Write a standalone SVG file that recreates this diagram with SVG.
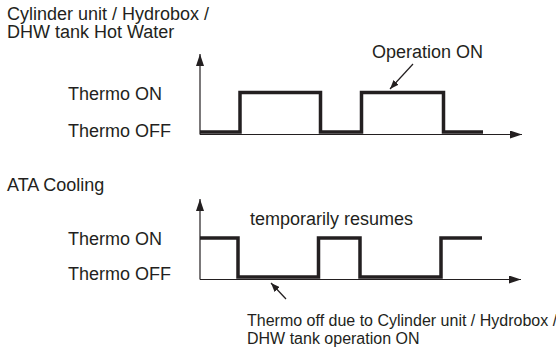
<svg xmlns="http://www.w3.org/2000/svg" width="556" height="347" viewBox="0 0 556 347">
<style>
text{font-family:"Liberation Sans",Arial,sans-serif;font-size:18px;fill:#231f20}
.note{font-size:16px}
.ax{stroke:#231f20;stroke-width:1.2;fill:none}
.wave{stroke:#231f20;stroke-width:3.5;fill:none;stroke-linejoin:miter;stroke-linecap:butt}
.ann{stroke:#231f20;stroke-width:1.2;fill:none}
</style>
<defs>
<marker id="ah" markerWidth="12" markerHeight="8" refX="12" refY="4" orient="auto" markerUnits="userSpaceOnUse">
<path d="M0,0 L12,4 L0,8 Z" fill="#231f20"/>
</marker>
<marker id="sh" markerWidth="9" markerHeight="7" refX="9" refY="3.5" orient="auto" markerUnits="userSpaceOnUse">
<path d="M0,0 L9,3.5 L0,7 Z" fill="#231f20"/>
</marker>
</defs>
<g id="title-top">
<text x="7" y="20">Cylinder unit / Hydrobox /</text>
<text x="7" y="38">DHW tank Hot Water</text>
</g>
<g id="labels-top">
<text x="68" y="100">Thermo ON</text>
<text x="68" y="137">Thermo OFF</text>
<text x="372" y="58">Operation ON</text>
</g>
<g id="title-bottom">
<text x="7" y="191">ATA Cooling</text>
</g>
<g id="labels-bottom">
<text x="68" y="245">Thermo ON</text>
<text x="68" y="280">Thermo OFF</text>
<text x="250" y="225">temporarily resumes</text>
<text class="note" x="247" y="326">Thermo off due to Cylinder unit / Hydrobox /</text>
<text class="note" x="247" y="344">DHW tank operation ON</text>
</g>
<g id="chart-top">
<path class="wave" d="M200,132 H240 V92.5 H320.5 V132 H361.5 V92.5 H443.5 V132 H483"/>
</g>
<g id="chart-bottom">
<path class="wave" d="M200,238 H238 V277 H318.5 V238 H360 V277 H441 V238 H482"/>
</g>
<g id="connectors">
<path class="ax" d="M200,134.5 V54" marker-end="url(#ah)"/>
<path class="ax" d="M200,134.5 H522" marker-end="url(#ah)"/>
<path class="ax" d="M200,279.5 V199" marker-end="url(#ah)"/>
<path class="ax" d="M200,279.5 H521" marker-end="url(#ah)"/>
<path class="ann" d="M413,64 L390,89" marker-end="url(#sh)"/>
<path class="ann" d="M286,299 L271,283" marker-end="url(#sh)"/>
</g>
</svg>
